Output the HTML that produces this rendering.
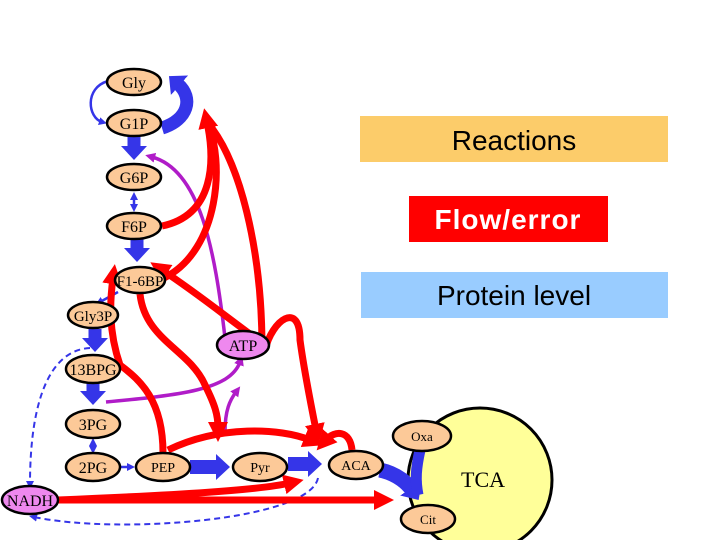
<!DOCTYPE html>
<html><head><style>
body{margin:0;background:#fff;width:720px;height:540px;overflow:hidden}
svg{display:block}
.n{fill:#fcc998;stroke:#000;stroke-width:2.5}
.p{fill:#ee88ee;stroke:#000;stroke-width:2.5}
text{font-family:"Liberation Serif",serif;text-anchor:middle}
.r{fill:none;stroke:#f00;stroke-width:7}
.m{fill:none;stroke:#b01cc8;stroke-width:3.5}
.b{fill:none;stroke:#3535e8}
</style></head><body>
<svg width="720" height="540" viewBox="0 0 720 540">
<defs>
<marker id="ar" markerWidth="20" markerHeight="20" refX="6" refY="10" orient="auto" markerUnits="userSpaceOnUse"><path d="M0,0L20,10L0,20z" fill="#f00"/></marker>
<marker id="am" markerWidth="10" markerHeight="10" refX="3" refY="5" orient="auto" markerUnits="userSpaceOnUse"><path d="M0,0L10,5L0,10z" fill="#b01cc8"/></marker>
<marker id="abB" markerWidth="14" markerHeight="26" refX="2" refY="13" orient="auto" markerUnits="userSpaceOnUse"><path d="M0,0L14,13L0,26z" fill="#3535e8"/></marker>
<marker id="ab" markerWidth="8" markerHeight="8" refX="3" refY="4" orient="auto" markerUnits="userSpaceOnUse"><path d="M0,0L8,4L0,8z" fill="#3535e8"/></marker>
<marker id="abs" markerWidth="8" markerHeight="8" refX="5" refY="4" orient="auto-start-reverse" markerUnits="userSpaceOnUse"><path d="M0,0L8,4L0,8z" fill="#3535e8"/></marker>
</defs>
<rect x="360" y="116" width="308" height="46" fill="#fccc6a"/>
<text x="514" y="150" style="font-family:'Liberation Sans',sans-serif;font-size:28px">Reactions</text>
<rect x="409" y="196" width="199" height="46" fill="#f00"/>
<text x="508" y="229" style="font-family:'Liberation Sans',sans-serif;font-size:28px;font-weight:bold;fill:#fff;letter-spacing:1px">Flow/error</text>
<rect x="361" y="272" width="307" height="46" fill="#99ccff"/>
<text x="514" y="305" style="font-family:'Liberation Sans',sans-serif;font-size:28px">Protein level</text>
<circle cx="480" cy="480" r="72" fill="#ffff99" stroke="#000" stroke-width="3"/>
<text x="483" y="487" style="font-size:22px">TCA</text>
<!-- blue -->
<path class="b" d="M134,136V148" stroke-width="13" marker-end="url(#abB)"/>
<path class="b" d="M137,239V250" stroke-width="13" marker-end="url(#abB)"/>
<path class="b" d="M95,329V340" stroke-width="13" marker-end="url(#abB)"/>
<path class="b" d="M93,383V393" stroke-width="13" marker-end="url(#abB)"/>
<path class="b" d="M190,467H218" stroke-width="14" marker-end="url(#abB)"/>
<path class="b" d="M288,464H310" stroke-width="14" marker-end="url(#abB)"/>
<path class="b" d="M380,470C398,474 408,484 412,490" stroke-width="15" marker-end="url(#abB)"/>
<path class="b" d="M420,450C416,468 415,480 418,495" stroke-width="11"/>
<path class="b" d="M162,128C188,120 194,98 178,84" stroke-width="13" marker-end="url(#abB)"/>
<path class="b" d="M108,81C84,88 88,118 102,122" stroke-width="2.5" marker-end="url(#ab)"/>
<path class="b" d="M134,195V209" stroke-width="2.5" marker-end="url(#abs)" marker-start="url(#abs)"/>
<path class="b" d="M93,441V451" stroke-width="2.5" marker-end="url(#abs)" marker-start="url(#abs)"/>
<path class="b" d="M120,467H130" stroke-width="2.5" marker-end="url(#ab)"/>
<path class="b" d="M118,292L100,302" stroke-width="2.5" marker-end="url(#ab)"/>
<path class="b" d="M90,348C50,350 30,400 30,484" stroke-width="2" stroke-dasharray="6,4" marker-end="url(#ab)"/>
<path class="b" d="M318,478C310,520 120,535 34,517" stroke-width="2" stroke-dasharray="6,4" marker-end="url(#ab)"/>
<!-- magenta -->
<path class="m" d="M225,338C215,250 200,170 152,157" marker-end="url(#am)"/>
<path class="m" d="M106,402C180,395 230,390 240,362" marker-end="url(#am)"/>
<path class="m" d="M225,432C225,410 230,400 236,392" marker-end="url(#am)"/>
<!-- red -->
<path class="r" d="M162,226C215,215 215,160 207,122" marker-end="url(#ar)"/>
<path class="r" d="M164,278C220,250 225,160 207,122"/>
<path class="r" d="M262,348C262,250 240,160 207,122"/>
<path class="r" d="M265,350C272,320 300,300 300,340C304,370 310,400 316,430" marker-end="url(#ar)"/>
<path class="r" d="M265,345C230,320 200,295 162,270" marker-end="url(#ar)"/>
<path class="r" d="M163,453C163,400 140,380 120,365C108,330 110,300 113,278" marker-end="url(#ar)"/>
<path class="r" d="M140,294C145,340 190,350 205,385C215,405 218,415 218,428" marker-end="url(#ar)"/>
<path class="r" d="M168,450C220,425 280,428 310,440" marker-end="url(#ar)"/>
<path class="r" d="M352,450C350,430 335,430 326,440" marker-end="url(#ar)"/>
<path class="r" d="M58,500C180,495 260,490 290,483" marker-end="url(#ar)"/>
<path class="r" d="M58,500C200,500 330,500 380,500" marker-end="url(#ar)"/>
<!-- nodes -->
<ellipse class="n" cx="134" cy="82" rx="27" ry="13"/><text x="134" y="88" font-size="16">Gly</text>
<ellipse class="n" cx="134" cy="123" rx="27" ry="13"/><text x="134" y="129" font-size="16">G1P</text>
<ellipse class="n" cx="134" cy="177" rx="27" ry="13"/><text x="134" y="183" font-size="16">G6P</text>
<ellipse class="n" cx="134" cy="226" rx="27" ry="13"/><text x="134" y="232" font-size="16">F6P</text>
<ellipse class="n" cx="140" cy="280" rx="25" ry="13"/><text x="140" y="286" font-size="15">F1-6BP</text>
<ellipse class="n" cx="93" cy="315" rx="25" ry="13"/><text x="93" y="321" font-size="15">Gly3P</text>
<ellipse class="n" cx="93" cy="369" rx="27" ry="14"/><text x="93" y="375" font-size="16">13BPG</text>
<ellipse class="n" cx="93" cy="424" rx="27" ry="14"/><text x="93" y="430" font-size="16">3PG</text>
<ellipse class="n" cx="93" cy="467" rx="27" ry="14"/><text x="93" y="473" font-size="16">2PG</text>
<ellipse class="n" cx="163" cy="467" rx="27" ry="14"/><text x="163" y="472" font-size="14">PEP</text>
<ellipse class="n" cx="260" cy="467" rx="27" ry="14"/><text x="260" y="472" font-size="14">Pyr</text>
<ellipse class="n" cx="356" cy="465" rx="27" ry="14"/><text x="356" y="470" font-size="14">ACA</text>
<ellipse class="n" cx="422" cy="436" rx="29" ry="15"/><text x="422" y="441" font-size="13">Oxa</text>
<ellipse class="n" cx="428" cy="519" rx="27" ry="14"/><text x="428" y="524" font-size="13">Cit</text>
<ellipse class="p" cx="30" cy="500" rx="28" ry="14"/><text x="30" y="506" font-size="16">NADH</text>
<ellipse class="p" cx="243" cy="345" rx="26" ry="14"/><text x="243" y="351" font-size="16">ATP</text>
</svg>
</body></html>
